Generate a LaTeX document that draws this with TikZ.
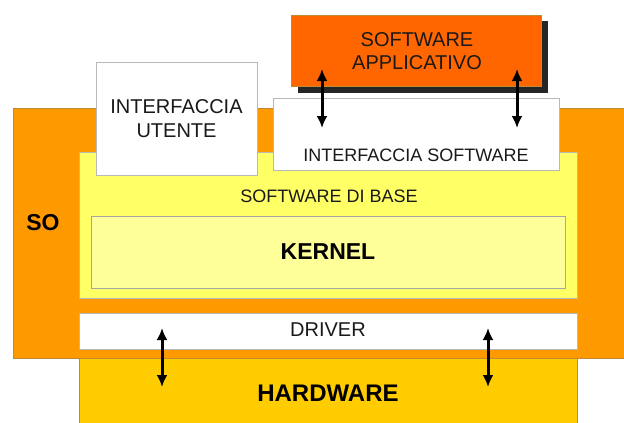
\documentclass[tikz,border=0pt]{standalone}
\usepackage{fontspec}
\setmainfont{Liberation Sans}
\usetikzlibrary{arrows.meta}
\definecolor{soorange}{HTML}{FF9900}
\definecolor{baseyellow}{HTML}{FFFF66}
\definecolor{kernelyellow}{HTML}{FFFF99}
\definecolor{apporange}{HTML}{FF6600}
\definecolor{hwyellow}{HTML}{FFCC00}
\definecolor{edgegray}{HTML}{B8B8B8}
\definecolor{edgedark}{HTML}{C08A30}
\tikzset{
  box/.style={draw=edgegray, line width=0.8pt, inner sep=0pt, anchor=north west},
  lbl/.style={inner sep=0pt, font=\fontsize{18}{21}\selectfont, text=black!90, align=center},
  blbl/.style={inner sep=0pt, font=\fontsize{23}{26}\selectfont\bfseries, text=black, align=center},
  dbl/.style={{Latex[length=12pt,width=11pt]}-{Latex[length=12pt,width=11pt]}, line width=3pt, black}
}
\begin{document}
\begin{tikzpicture}[x=1pt,y=-1pt]
\useasboundingbox (0,0) rectangle (624,423);
% SO
\node[box, draw=edgedark, fill=soorange, minimum width=611pt, minimum height=250pt] (so) at (13,108) {};
\node[blbl] (solbl) at (43,223) {SO};
% software di base
\node[box, fill=baseyellow, minimum width=498pt, minimum height=146pt] (base) at (79,152) {};
\node[lbl] (baselbl) at (329,196) {SOFTWARE DI BASE};
% kernel
\node[box, draw=gray!70, fill=kernelyellow, minimum width=474pt, minimum height=72pt] (kernel) at (91,216) {};
\node[blbl] (kernellbl) at (328,252) {KERNEL};
% interfaccia utente
\node[box, fill=white, minimum width=161pt, minimum height=113pt] (iu) at (96,62) {};
\node[lbl, font=\fontsize{20}{24}\selectfont] (iulbl) at (176.5,119) {INTERFACCIA\\UTENTE};
% interfaccia software
\node[box, fill=white, minimum width=286pt, minimum height=72pt] (is) at (273,98) {};
\node[lbl] (islbl) at (416,155) {INTERFACCIA SOFTWARE};
% software applicativo
\node[box, draw=none, fill=black!85, minimum width=250pt, minimum height=72pt] (shadow) at (298,21) {};
\node[box, draw=edgedark, fill=apporange, minimum width=250pt, minimum height=71pt] (app) at (291,15) {};
\node[lbl, font=\fontsize{20}{23}\selectfont] (applbl) at (417,51) {SOFTWARE\\APPLICATIVO};
% driver
\node[box, fill=white, minimum width=498pt, minimum height=36pt] (drv) at (79,313) {};
\node[lbl, font=\fontsize{20}{23}\selectfont] (drvlbl) at (328,330) {DRIVER};
% hardware
\node[box, draw=edgedark, fill=hwyellow, minimum width=498pt, minimum height=66pt] (hw) at (79,358) {};
\node[blbl, font=\fontsize{24}{27}\selectfont\bfseries] (hwlbl) at (328,393) {HARDWARE};
% arrow end points
\coordinate (a1t) at (322,69);  \coordinate (a1b) at (322,128);
\coordinate (a2t) at (517,69);  \coordinate (a2b) at (517,128);
\coordinate (b1t) at (162,328); \coordinate (b1b) at (162,387);
\coordinate (b2t) at (488,328); \coordinate (b2b) at (488,387);
\draw[dbl] (a1t) -- (a1b);
\draw[dbl] (a2t) -- (a2b);
\draw[dbl] (b1t) -- (b1b);
\draw[dbl] (b2t) -- (b2b);
\end{tikzpicture}
\end{document}
